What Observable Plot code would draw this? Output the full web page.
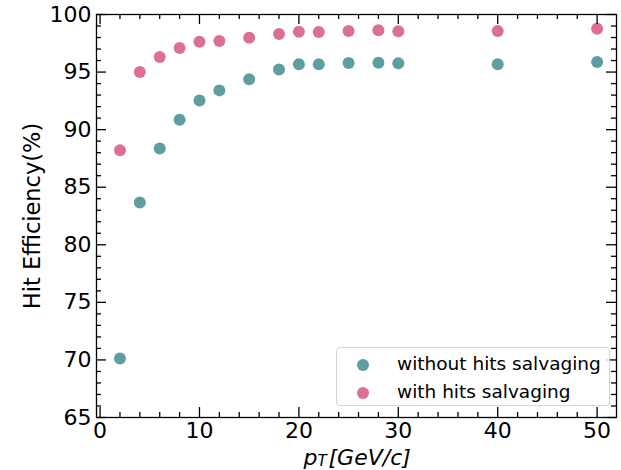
<!DOCTYPE html>
<html><head><meta charset="utf-8">
<script src="https://cdn.jsdelivr.net/npm/d3@7"></script>
<script src="https://cdn.jsdelivr.net/npm/@observablehq/plot@0.6"></script>
<style>
body{margin:0;background:#fff;}
#wrap{position:relative;width:621px;height:470px;}
.legend{position:absolute;left:336px;top:347px;width:274px;height:59px;box-sizing:border-box;border:1px solid #d6d6d6;border-radius:4px;background:rgba(255,255,255,0.8);font-family:"DejaVu Sans";font-size:18.5px;color:#000;}
.legend .m{position:absolute;width:12px;height:12px;border-radius:50%;left:20px;}
.legend .t{position:absolute;left:60px;line-height:20px;white-space:nowrap;}
</style></head><body><div id="wrap"></div>
<script>
const pt = [2, 4, 6, 8, 10, 12, 15, 18, 20, 22, 25, 28, 30, 40, 50];
const withoutSalvaging = [70.13, 83.67, 88.37, 90.86, 92.54, 93.41, 94.37, 95.23, 95.67, 95.67, 95.78, 95.81, 95.76, 95.67, 95.87];
const withSalvaging = [88.22, 95.0, 96.3, 97.09, 97.64, 97.7, 97.99, 98.3, 98.51, 98.48, 98.57, 98.63, 98.54, 98.57, 98.77];
const seriesNames = ["without hits salvaging", "with hits salvaging"];
const seriesColors = ["#5f9ea0", "#db7093"];
const xMajor = [0, 10, 20, 30, 40, 50];
const xMinor = [2, 4, 6, 8, 12, 14, 16, 18, 22, 24, 26, 28, 32, 34, 36, 38, 42, 44, 46, 48];
const yMajor = [65, 70, 75, 80, 85, 90, 95, 100];
const yMinor = [66, 67, 68, 69, 71, 72, 73, 74, 76, 77, 78, 79, 81, 82, 83, 84, 86, 87, 88, 89, 91, 92, 93, 94, 96, 97, 98, 99];
const yLabel = "Hit Efficiency(%)";

const rows = [];
pt.forEach((x, i) => {
  rows.push({x, y: withoutSalvaging[i], s: seriesNames[0]});
  rows.push({x, y: withSalvaging[i], s: seriesNames[1]});
});

const W = 621, H = 470, mL = 96, mR = 5, mT = 14, mB = 53;
const pw = W - mL - mR, ph = H - mT - mB;
const majL = 10, minL = 5, tw = 1.3;

const chart = Plot.plot({
  width: W, height: H,
  marginLeft: mL, marginRight: mR, marginTop: mT, marginBottom: mB,
  style: {fontFamily: "DejaVu Sans", fontSize: "22px", color: "#000", background: "#fff"},
  x: {domain: [-0.36, 51.95]},
  y: {domain: [65, 100]},
  color: {domain: seriesNames, range: seriesColors},
  marks: [
    Plot.dot(rows, {x: "x", y: "y", fill: "s", r: 6, stroke: "none"}),
    // bottom & top ticks
    Plot.tickX(xMajor, {x: d => d, insetTop: ph - majL, stroke: "#000", strokeWidth: tw}),
    Plot.tickX(xMinor, {x: d => d, insetTop: ph - minL, stroke: "#000", strokeWidth: tw}),
    Plot.tickX(xMajor, {x: d => d, insetBottom: ph - majL, stroke: "#000", strokeWidth: tw}),
    Plot.tickX(xMinor, {x: d => d, insetBottom: ph - minL, stroke: "#000", strokeWidth: tw}),
    // left & right ticks
    Plot.tickY(yMajor, {y: d => d, insetRight: pw - majL, stroke: "#000", strokeWidth: tw}),
    Plot.tickY(yMinor, {y: d => d, insetRight: pw - minL, stroke: "#000", strokeWidth: tw}),
    Plot.tickY(yMajor, {y: d => d, insetLeft: pw - majL, stroke: "#000", strokeWidth: tw}),
    Plot.tickY(yMinor, {y: d => d, insetLeft: pw - minL, stroke: "#000", strokeWidth: tw}),
    Plot.axisX(xMajor, {tickSize: 0, tickPadding: 5, label: null, fontSize: 22}),
    Plot.axisY(yMajor, {tickSize: 0, tickPadding: 5, label: null, fontSize: 22}),
    Plot.frame({stroke: "#000", strokeWidth: tw}),
    Plot.text([yLabel], {text: d => d, frameAnchor: "left", textAnchor: "middle", lineAnchor: "middle", rotate: -90, dx: -64, fontSize: 22.5, fill: "#000"}),
    Plot.text(["p"], {text: d => d, frameAnchor: "bottom", textAnchor: "start", lineAnchor: "middle", dx: -53, dy: 40, fontSize: 22, fontStyle: "italic", fill: "#000"}),
    Plot.text(["T"], {text: d => d, frameAnchor: "bottom", textAnchor: "start", lineAnchor: "middle", dx: -39, dy: 44, fontSize: 15.4, fontStyle: "italic", fill: "#000"}),
    Plot.text(["[GeV/c]"], {text: d => d, frameAnchor: "bottom", textAnchor: "start", lineAnchor: "middle", dx: -28, dy: 40, fontSize: 22, fontStyle: "italic", fill: "#000"})
  ]
});

const wrap = document.getElementById("wrap");
wrap.appendChild(chart);

const leg = document.createElement("div");
leg.className = "legend";
seriesNames.forEach((name, i) => {
  const cy = 17 + i * 28;
  const m = document.createElement("span");
  m.className = "m";
  m.style.top = (cy - 6) + "px";
  m.style.background = seriesColors[i];
  leg.appendChild(m);
  const t = document.createElement("span");
  t.className = "t";
  t.style.top = (cy - 11) + "px";
  t.textContent = name;
  leg.appendChild(t);
});
wrap.appendChild(leg);
</script></body></html>
